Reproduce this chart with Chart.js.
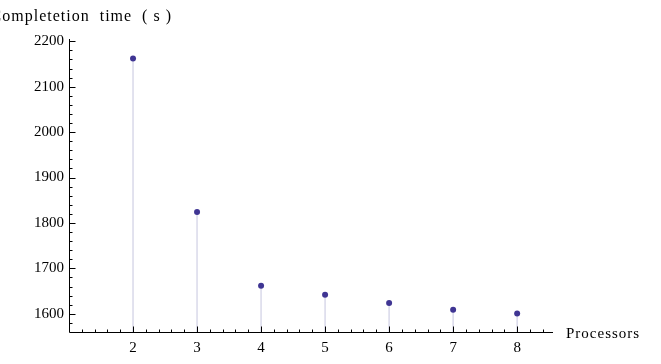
<!DOCTYPE html>
<html>
<head>
<meta charset="utf-8">
<script src="https://cdn.jsdelivr.net/npm/chart.js@4"></script>
<style>
    body { margin: 0; background: #fff; }
    canvas { display: block; }
</style>
</head>
<body>
<canvas id="chart" width="661" height="364"></canvas>
<script>
const processors = [2, 3, 4, 5, 6, 7, 8];
const completionTimes = [2162, 1824, 1662, 1642, 1624, 1609, 1601];
const xTickValues = [2, 3, 4, 5, 6, 7, 8];
const yTickValues = [1600, 1700, 1800, 1900, 2000, 2100, 2200];
const yTitle = "Completetion  time  ( s )";
const xTitle = "Processors";

const X_MIN = 1, X_MAX = 8.56;
const Y_MIN = 1560, Y_MAX = 2205;
const serif = "'Liberation Serif', 'Times New Roman', serif";

// stems from the axis up to each point, broken by nulls
const stems = [];
processors.forEach((p, i) => {
    stems.push({ x: p, y: Y_MIN }, { x: p, y: completionTimes[i] }, { x: p, y: null });
});

const axesPlugin = {
    id: "mmaAxes",
    afterDraw(chart) {
        const ctx = chart.ctx;
        const xs = chart.scales.x, ys = chart.scales.y;
        const a = chart.chartArea;
        const left = Math.round(a.left) + 0.5;
        const bottom = Math.round(a.bottom) + 0.5;
        ctx.save();
        ctx.strokeStyle = "#000";
        ctx.lineWidth = 1;
        ctx.beginPath();
        ctx.moveTo(left, a.top);
        ctx.lineTo(left, bottom);
        ctx.lineTo(a.right, bottom);
        ctx.stroke();

        // x ticks (inward)
        ctx.beginPath();
        for (let k = Math.round(X_MIN * 5) + 1; k / 5 <= X_MAX; k++) {
            const px = Math.round(xs.getPixelForValue(k / 5)) + 0.5;
            const len = (k % 5 === 0) ? 6 : 3;
            ctx.moveTo(px, bottom);
            ctx.lineTo(px, bottom - len);
        }
        // y ticks (inward)
        for (let v = 1580; v <= Y_MAX; v += 20) {
            const py = Math.round(ys.getPixelForValue(v)) + 0.5;
            const len = (v % 100 === 0) ? 6 : 3;
            ctx.moveTo(left, py);
            ctx.lineTo(left + len, py);
        }
        ctx.stroke();

        ctx.fillStyle = "#000";
        ctx.textBaseline = "middle";
        ctx.font = "16px " + serif;
        ctx.letterSpacing = "1px";
        ctx.textAlign = "right";
        ctx.fillText(yTitle, 172, 17);
        ctx.font = "15px " + serif;
        ctx.textAlign = "left";
        ctx.fillText(xTitle, 566, 334);
        ctx.restore();
    }
};

new Chart(document.getElementById("chart"), {
    type: "scatter",
    data: {
        datasets: [
            {
                type: "line",
                data: stems,
                borderColor: "#d9d9ea",
                borderWidth: 1.5,
                pointRadius: 0,
                spanGaps: false,
                order: 2
            },
            {
                data: processors.map((p, i) => ({ x: p, y: completionTimes[i] })),
                backgroundColor: "#3f3593",
                borderColor: "#3f3593",
                pointRadius: 3,
                pointBorderWidth: 0,
                order: 1
            }
        ]
    },
    options: {
        responsive: false,
        animation: false,
        layout: { padding: { top: 39, right: 108, left: 0, bottom: 0 } },
        plugins: { legend: { display: false }, tooltip: { enabled: false } },
        scales: {
            x: {
                type: "linear",
                min: X_MIN,
                max: X_MAX,
                grid: { display: false, drawTicks: false },
                border: { display: false },
                afterFit: s => { s.height = 32; },
                afterBuildTicks: s => { s.ticks = xTickValues.map(v => ({ value: v })); },
                ticks: {
                    padding: 7,
                    maxRotation: 0,
                    color: "#000",
                    font: { family: serif, size: 15 },
                    callback: v => String(v)
                }
            },
            y: {
                type: "linear",
                min: Y_MIN,
                max: Y_MAX,
                grid: { display: false, drawTicks: false },
                border: { display: false },
                afterFit: s => { s.width = 69; },
                afterBuildTicks: s => { s.ticks = yTickValues.map(v => ({ value: v })); },
                ticks: {
                    padding: 5,
                    color: "#000",
                    font: { family: serif, size: 15 },
                    callback: v => String(v)
                }
            }
        }
    },
    plugins: [axesPlugin]
});
</script>
</body>
</html>
